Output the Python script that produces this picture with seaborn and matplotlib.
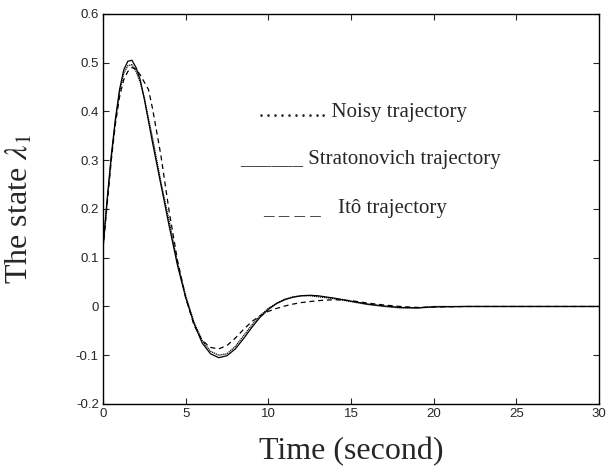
import numpy as np
import pandas as pd
import matplotlib
matplotlib.use("Agg")
import matplotlib.pyplot as plt
import seaborn as sns

# time axis (seconds)
t = [0, 0.25, 0.5, 0.75, 1.0, 1.25, 1.5, 1.75, 2.0, 2.25, 2.5, 2.75, 3.0, 3.5,
     4.0, 4.5, 5.0, 5.5, 6.0, 6.5, 7.0, 7.5, 8.0, 8.5, 9.0, 9.5, 10.0, 10.5,
     11.0, 11.5, 12.0, 12.5, 13.0, 14.0, 15.0, 16.0, 17.0, 18.0, 19.0, 20.0,
     22.0, 24.0, 26.0, 28.0, 30.0]

# noisy trajectory
noisy = [0.12, 0.215, 0.305, 0.38, 0.44, 0.478, 0.494, 0.496, 0.482, 0.46,
         0.428, 0.385, 0.345, 0.255, 0.175, 0.09, 0.022, -0.032, -0.07, -0.092,
         -0.1, -0.097, -0.082, -0.06, -0.038, -0.019, -0.004, 0.007, 0.015,
         0.02, 0.022, 0.022, 0.02, 0.016, 0.01, 0.004, 0.0, -0.003, -0.003,
         0.0, 0.0, 0.0, 0.0, 0.0, 0.0]

# Stratonovich trajectory
strat = [0.12, 0.22, 0.31, 0.385, 0.445, 0.485, 0.503, 0.505, 0.49, 0.465,
         0.425, 0.38, 0.335, 0.25, 0.165, 0.085, 0.018, -0.035, -0.075, -0.097,
         -0.105, -0.101, -0.087, -0.066, -0.043, -0.022, -0.006, 0.006, 0.014,
         0.019, 0.022, 0.023, 0.022, 0.017, 0.011, 0.005, 0.001, -0.002, -0.003,
         -0.001, 0.0, 0.0, 0.0, 0.0, 0.0]

# Ito trajectory
ito = [0.12, 0.21, 0.30, 0.375, 0.43, 0.465, 0.482, 0.49, 0.487, 0.475,
       0.46, 0.445, 0.405, 0.31, 0.195, 0.095, 0.018, -0.038, -0.07, -0.084,
       -0.087, -0.08, -0.065, -0.047, -0.031, -0.019, -0.01, -0.004, 0.001,
       0.005, 0.008, 0.01, 0.012, 0.014, 0.012, 0.007, 0.003, 0.0, -0.002,
       -0.001, 0.0, 0.0, 0.0, 0.0, 0.0]

x_ticks = [0, 5, 10, 15, 20, 25, 30]
y_ticks = [-0.2, -0.1, 0, 0.1, 0.2, 0.3, 0.4, 0.5, 0.6]
y_ticklabels = ["-0.2", "-0.1", "0", "0.1", "0.2", "0.3", "0.4", "0.5", "0.6"]

df = pd.DataFrame({"t": t, "noisy": noisy, "strat": strat, "ito": ito})

sns.set_style("white")
plt.rcParams["font.family"] = ["Liberation Serif", "DejaVu Serif"]
plt.rcParams["mathtext.fontset"] = "stix"

fig = plt.figure(figsize=(6.14, 4.72), dpi=100)
ax = fig.add_axes([0.1678, 0.1441, 0.8078, 0.8263])

sns.lineplot(data=df, x="t", y="noisy", ax=ax, color="black", lw=0.9,
             linestyle=(0, (1, 0.6)))
sns.lineplot(data=df, x="t", y="strat", ax=ax, color="black", lw=0.9)
sns.lineplot(data=df, x="t", y="ito", ax=ax, color="black", lw=0.9,
             linestyle=(0, (4, 3)))

ax.set_xlim(0, 30)
ax.set_ylim(-0.2, 0.6)
ax.set_xticks(x_ticks)
ax.set_xticklabels([str(v) for v in x_ticks], family="Liberation Sans", fontsize=9.5)
ax.set_yticks(y_ticks)
ax.set_yticklabels(y_ticklabels, family="Liberation Sans", fontsize=9.5)
ax.tick_params(direction="in", length=4, width=0.8, top=True, right=True,
               bottom=True, left=True, pad=3)
for s in ax.spines.values():
    s.set_color("black")
    s.set_linewidth(1.0)

ax.set_xlabel("Time (second)", fontsize=23)
ax.set_ylabel(r"The state $\lambda_1$", fontsize=23)
ax.xaxis.set_label_coords(0.5, -0.085)
ax.yaxis.set_label_coords(-0.137, 0.5)

# annotations acting as the legend
ax.text(9.38, 0.389, "………. Noisy trajectory", fontsize=15, va="baseline")
ax.text(8.29, 0.292, "______ Stratonovich trajectory", fontsize=15, va="baseline")
ax.text(9.68, 0.192, "_ _ _ _", fontsize=15, va="baseline")
ax.text(14.22, 0.192, "Itô trajectory", fontsize=15, va="baseline")

fig.savefig("out.png", dpi=100)
